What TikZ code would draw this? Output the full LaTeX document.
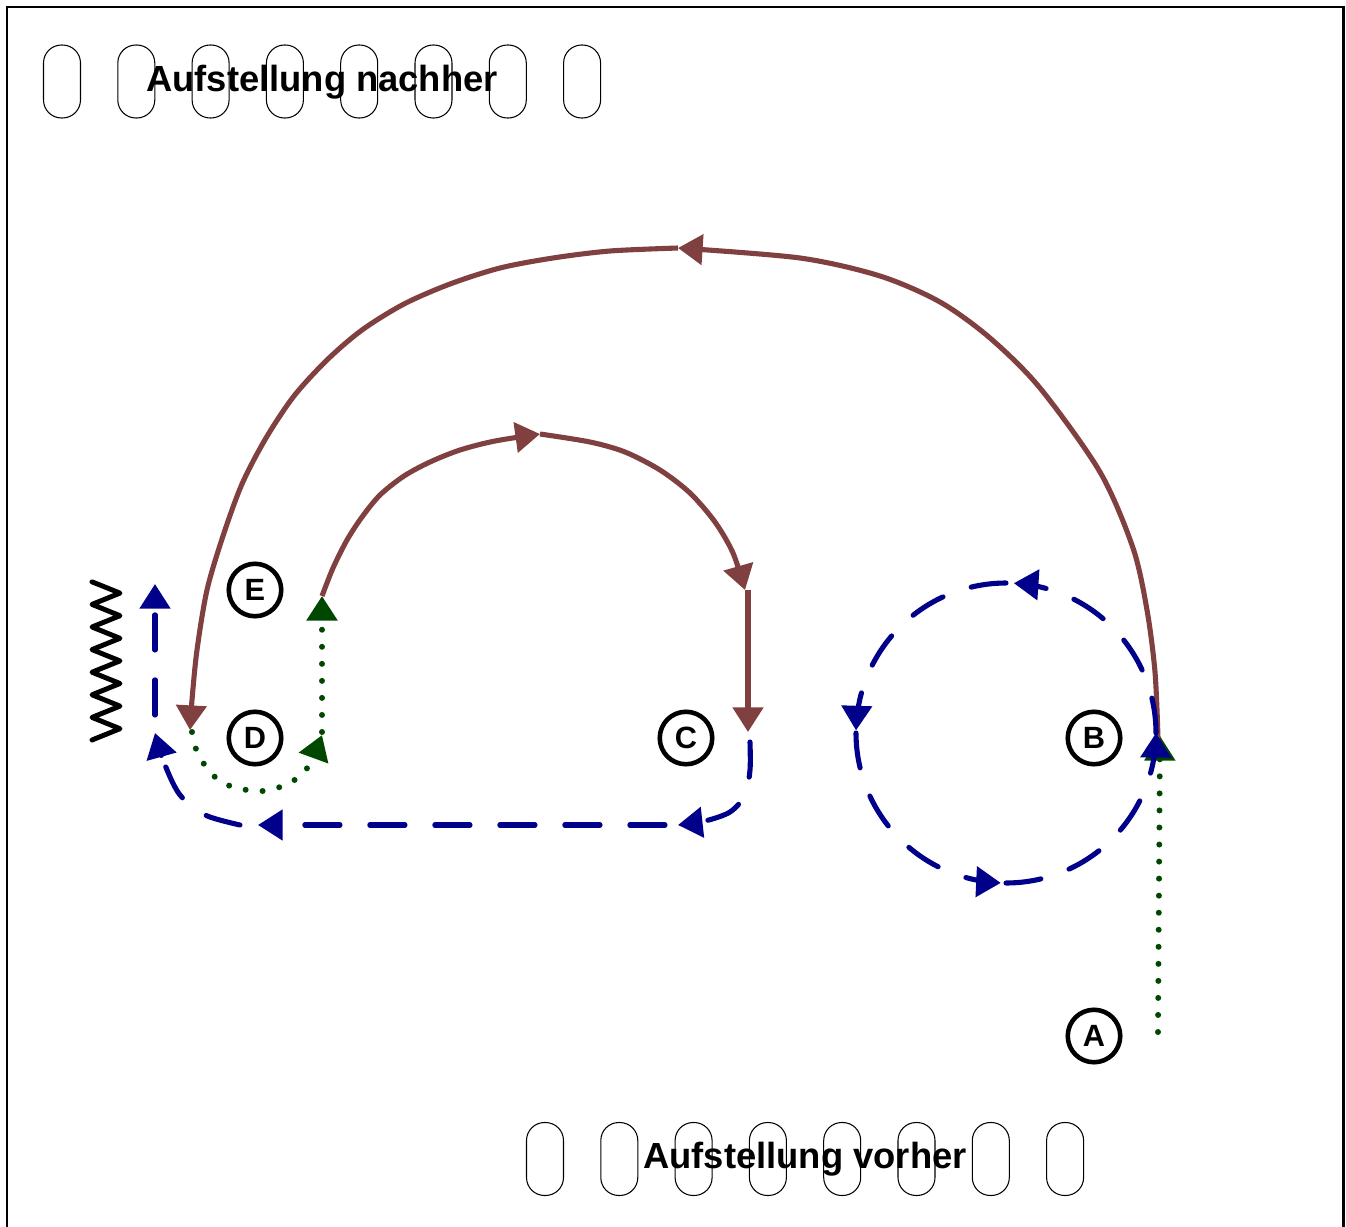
\documentclass[tikz,border=0pt]{standalone}
\usepackage{fontspec}
\setmainfont{Liberation Sans}
\usetikzlibrary{arrows.meta}
\definecolor{laufrot}{RGB}{128,64,64}
\definecolor{passblau}{RGB}{0,0,139}
\definecolor{dribbelgruen}{RGB}{0,72,0}
\tikzset{
  spitze/.style={-{Triangle[length=14pt,width=17pt]}},
  laufweg/.style={draw=laufrot,line width=2.9pt,spitze},
  passweg/.style={draw=passblau,line width=2.9pt,line cap=round,dash pattern=on 20pt off 17pt,spitze},
  dribbelweg/.style={draw=dribbelgruen,line width=3.4pt,line cap=round,dash pattern=on 0pt off 9.7pt,spitze}
}
\begin{document}
\begin{tikzpicture}[x=0.02cm,y=-0.02cm,
  spieler/.style={circle,draw,line width=2.6pt,minimum size=1.05cm,inner sep=0pt,
    font=\fontsize{17.5}{18}\selectfont\bfseries},
  platz/.style={draw,line width=0.6pt,rounded corners=0.36cm,minimum width=0.74cm,
    minimum height=1.46cm,inner sep=0pt},
  titel/.style={font=\fontsize{20.7}{24}\selectfont\bfseries,inner sep=0pt}]
  \useasboundingbox (0,0) rectangle (1346,1227);
  \draw[line width=1.7pt] (7,1240) -- (7,7) -- (1343,7) -- (1343,1240);

  % Aufstellung
  \foreach \i in {0,...,7} {
    \node[platz] (oben\i) at ({62+74.3*\i},81.5) {};
    \node[platz] (unten\i) at ({545+74.3*\i},1159) {};
  }
  \node[titel] (nachher) at (322,82) {Aufstellung nachher};
  \node[titel] (vorher) at (805,1159) {Aufstellung vorher};

  % Spieler
  \node[spieler] (E) at (255,590) {E};
  \node[spieler] (D) at (255,738) {D};
  \node[spieler] (C) at (686,738) {C};
  \node[spieler] (B) at (1094,738) {B};
  \node[spieler] (A) at (1094,1036) {A};

  % Tor
  \draw[line width=2.8pt,line join=round,line cap=round] (92,740)
    \foreach \i in {0,...,6} { -- (120,{728.7-22.6*\i}) -- (92,{717.4-22.6*\i}) };

  \coordinate (a-start) at (1158,1032);
  \coordinate (b-lauf) at (1158,738);
  \coordinate (oben-mitte) at (678,248);
  \coordinate (d-lauf) at (190,730);
  \coordinate (e-lauf) at (322,596);
  \coordinate (bogen-mitte) at (540,434);
  \coordinate (c-kurve) at (745,590);
  \coordinate (c-lauf) at (748,732);

  % Dribbling
  \draw[dribbelweg] (a-start) -- (1160,736);
  \draw[dribbelweg] plot[smooth] coordinates {(192,732) (196,749) (204,764) (215,777)
    (230,786) (247,790) (263,791) (280,787) (296,779) (310,764) (322,735)};
  \draw[dribbelweg] (322,732) -- (e-lauf);

  % Laufwege
  \draw[laufweg] plot[smooth] coordinates {(b-lauf) (1155,672) (1147,610) (1133,548)
    (1100,472) (1040,388) (990,338) (940,302) (880,276) (800,258) (oben-mitte)};
  \draw[laufweg] plot[smooth] coordinates {(oben-mitte) (610,251) (553,258) (500,268)
    (450,284) (404,304) (362,330) (327,360) (294,396) (266,438) (242,484) (223,536)
    (207,590) (197,650) (192,700) (d-lauf)};
  \draw[laufweg] plot[smooth] coordinates {(e-lauf) (333,568) (347,540) (362,517)
    (380,495) (404,476) (430,462) (460,450) (495,441) (bogen-mitte)};
  \draw[laufweg] plot[smooth] coordinates {(bogen-mitte) (590,442) (625,452) (660,470)
    (690,493) (715,522) (733,553) (c-kurve)};
  \draw[laufweg] (748,590) -- (c-lauf);

  % Paesse
  \draw[passweg] plot[smooth] coordinates {(750,742) (750,770) (745,795) (730,812)
    (705,821) (678,825)};
  \draw[passweg] (665,825) -- (258,825);
  \draw[passweg] plot[smooth] coordinates {(240,825) (205,815) (180,795) (165,765)
    (155,733)};
  \draw[passweg] (155,715) -- (155,584);
  \foreach \a/\b in {360/273,270/181,180/92,90/0}
    \draw[passweg] plot[smooth,domain=\a:\b,samples=40]
      ({1006+150*cos(\x)},{733+150*sin(\x)});
\end{tikzpicture}
\end{document}
